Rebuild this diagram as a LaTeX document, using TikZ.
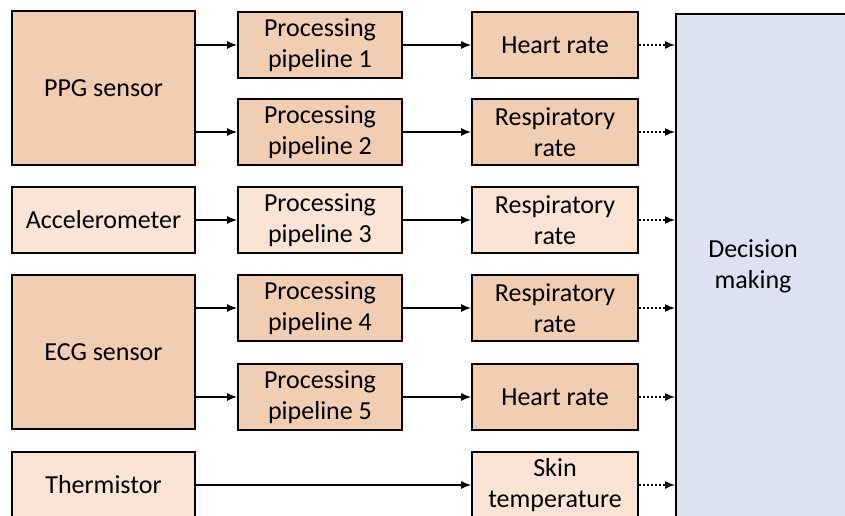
\documentclass[tikz,border=0pt]{standalone}
\usepackage{fontspec}
\setmainfont{Carlito}
\usetikzlibrary{arrows.meta}
\definecolor{darkfill}{RGB}{241,205,177}
\definecolor{lightfill}{RGB}{249,228,214}
\definecolor{bluefill}{RGB}{219,226,241}
\begin{document}
\begin{tikzpicture}[x=1pt,y=-1pt,
  box/.style={draw=black, line width=1.8pt, align=center, inner sep=0pt,
    font=\fontsize{26}{31}\selectfont},
  dark/.style={box, fill=darkfill},
  light/.style={box, fill=lightfill},
  sensor/.style={minimum width=183pt},
  proc/.style={minimum width=164pt, minimum height=66pt},
  outp/.style={minimum width=166pt, minimum height=66pt},
  arr/.style={line width=1.5pt, -{Latex[length=10pt,width=8pt]}},
  darr/.style={line width=1.5pt, dash pattern=on 2pt off 2pt, -{Latex[length=10pt,width=8pt]}}]
\useasboundingbox (0,0) rectangle (845,516);
\clip (0,0) rectangle (845,516);
% sensors
\node[dark, sensor, minimum height=154pt] (ppg) at (103.5,88) {PPG sensor};
\node[light, sensor, minimum height=66pt] (acc) at (103.5,220) {Accelerometer};
\node[dark, sensor, minimum height=154pt] (ecg) at (103.5,352) {ECG sensor};
\node[light, sensor, minimum height=66pt] (therm) at (103.5,485) {Thermistor};
% pipelines
\node[dark, proc] (p1) at (320,45) {Processing\\pipeline 1};
\node[dark, proc] (p2) at (320,132) {Processing\\pipeline 2};
\node[light, proc] (p3) at (320,220) {Processing\\pipeline 3};
\node[dark, proc] (p4) at (320,308) {Processing\\pipeline 4};
\node[dark, proc] (p5) at (320,397) {Processing\\pipeline 5};
% outputs
\node[dark, outp] (o1) at (555,45) {Heart rate};
\node[dark, outp] (o2) at (555,132) {Respiratory\\rate};
\node[light, outp] (o3) at (555,220) {Respiratory\\rate};
\node[dark, outp] (o4) at (555,308) {Respiratory\\rate};
\node[dark, outp] (o5) at (555,397) {Heart rate};
\node[light, outp] (o6) at (555,485) {Skin\\temperature};
% decision making
\node[box, fill=bluefill, anchor=north west, minimum width=300pt, minimum height=520pt] (dm) at (675,13) {};
\node[align=center, font=\fontsize{26}{31}\selectfont] (dmtext) at (753,266) {Decision\\making};
% arrows
\draw[arr] (ppg.east |- p1.west) -- (p1.west);
\draw[arr] (ppg.east |- p2.west) -- (p2.west);
\draw[arr] (acc.east) -- (p3.west);
\draw[arr] (ecg.east |- p4.west) -- (p4.west);
\draw[arr] (ecg.east |- p5.west) -- (p5.west);
\draw[arr] (therm.east) -- (o6.west);
\draw[arr] (p1.east) -- (o1.west);
\draw[arr] (p2.east) -- (o2.west);
\draw[arr] (p3.east) -- (o3.west);
\draw[arr] (p4.east) -- (o4.west);
\draw[arr] (p5.east) -- (o5.west);
\foreach \o in {o1,o2,o3,o4,o5,o6}
  \draw[darr] (\o.east) -- (\o.east -| dm.west);
\end{tikzpicture}
\end{document}
